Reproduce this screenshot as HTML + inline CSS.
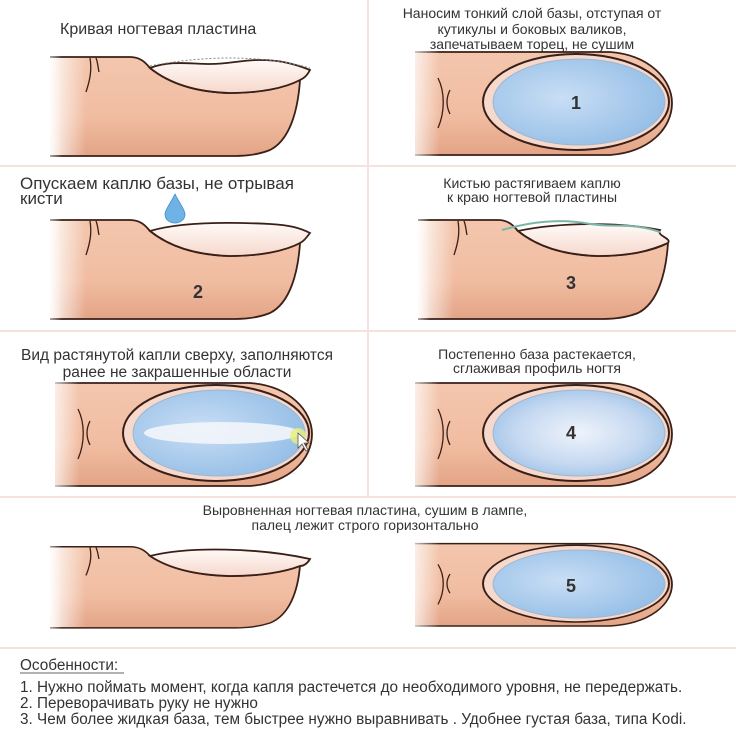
<!DOCTYPE html>
<html><head><meta charset="utf-8"><style>
body{margin:0;background:#fff;}
svg{display:block}
text{font-family:"Liberation Sans",sans-serif;fill:#333;}
</style></head><body>
<svg width="736" height="736" viewBox="0 0 736 736" xmlns="http://www.w3.org/2000/svg">
<defs>
<linearGradient id="skin" x1="0" y1="0" x2="0" y2="1">
<stop offset="0" stop-color="#f3c6ad"/><stop offset="0.6" stop-color="#f1bda2"/><stop offset="1" stop-color="#e3a486"/></linearGradient>
<linearGradient id="fade" x1="0" y1="0" x2="1" y2="0">
<stop offset="0" stop-color="#fff" stop-opacity="1"/><stop offset="1" stop-color="#fff" stop-opacity="0"/></linearGradient>
<linearGradient id="nail" x1="0" y1="0" x2="0" y2="1">
<stop offset="0" stop-color="#fffaf8"/><stop offset="1" stop-color="#f6d8cc"/></linearGradient>
<radialGradient id="blue" cx="0.4" cy="0.45" r="0.65">
<stop offset="0" stop-color="#c9def5"/><stop offset="1" stop-color="#93bde6"/></radialGradient>
<radialGradient id="blue2" cx="0.5" cy="0.5" r="0.6">
<stop offset="0" stop-color="#eef3fb"/><stop offset="0.6" stop-color="#c6d9f1"/><stop offset="1" stop-color="#98bfe6"/></radialGradient>
<g id="side">
<path d="M50,57 L130,57 C140,57 145,62 150,68 C165,80 190,92 230,93 C260,93 285,88 300,80 C298,110 290,140 270,150 C255,156 240,156 230,156 L50,156 Z" fill="url(#skin)"/>
<rect x="46" y="55" width="40" height="103" fill="url(#fade)"/>
<path d="M50,57 L130,57 C140,57 145,62 150,68 C165,80 190,92 230,93 C260,93 285,88 300,80 C298,110 290,140 270,150 C255,156 240,156 230,156 L50,156" fill="none" stroke="#3a1f17" stroke-width="1.8"/>
<rect x="40" y="54" width="22" height="105" fill="url(#fade)"/>
<path d="M90,58 C92,70 90,80 86,92 M96,58 C98,63 98,68 99,72" fill="none" stroke="#3a1f17" stroke-width="1.3"/>
</g>
<g id="top">
<path d="M415,52 L610,52 C650,55 672,80 672,103 C672,128 650,152 610,155 L415,155 Z" fill="url(#skin)"/>
<path d="M415,52 L610,52 C650,55 672,80 672,103 C672,128 650,152 610,155 L415,155" fill="none" stroke="#3a1f17" stroke-width="1.8"/>
<rect x="405" y="50" width="35" height="107" fill="url(#fade)"/>
<path d="M438,78 C445,92 445,112 438,128 M450,90 C446,98 446,106 450,114" fill="none" stroke="#3a1f17" stroke-width="1.3"/>
<ellipse cx="576" cy="102" rx="93" ry="48" fill="#f6d9cc" stroke="#3a1f17" stroke-width="2"/>
</g>
</defs>

<g stroke="#f3e3dc" stroke-width="2">
<line x1="0" y1="166" x2="736" y2="166"/><line x1="0" y1="331" x2="736" y2="331"/><line x1="0" y1="497" x2="736" y2="497"/><line x1="0" y1="648" x2="736" y2="648"/>
<line x1="368" y1="0" x2="368" y2="497"/>
</g>

<!-- Row 1 left -->
<text x="60" y="34" font-size="16">Кривая ногтевая пластина</text>
<use href="#side"/>
<path d="M150,68 C170,60 190,64 210,64 C230,64 240,60 260,60 C280,60 295,64 310,70 C308,74 305,78 300,80 C285,88 260,93 230,93 C190,92 165,80 150,68 Z" fill="url(#nail)" stroke="#3a1f17" stroke-width="1.8"/>
<path d="M150,66 C200,56 260,54 310,68" fill="none" stroke="#888" stroke-width="1" stroke-dasharray="2,2"/>

<!-- Row 1 right -->
<g font-size="14" text-anchor="middle"><text x="532" y="18">Наносим тонкий слой базы, отступая от</text><text x="532" y="34">кутикулы и боковых валиков,</text><text x="532" y="49">запечатываем торец, не сушим</text></g>
<use href="#top"/>
<ellipse cx="579" cy="102" rx="86" ry="43" fill="url(#blue)" stroke="#9fb6cc" stroke-width="1"/>
<text x="576" y="109" font-size="18" font-weight="bold" text-anchor="middle" fill="#222">1</text>

<!-- Row 2 left -->
<g font-size="17"><text x="20" y="189">Опускаем каплю базы, не отрывая</text><text x="20" y="204">кисти</text></g>
<use href="#side" transform="translate(0,163)"/>
<path d="M150,231 C180,222 230,222 270,224 C290,225 300,228 310,233 C306,238 304,241 300,243 C285,251 260,256 230,256 C190,255 165,243 150,231 Z" fill="url(#nail)" stroke="#3a1f17" stroke-width="1.8"/>
<path d="M175,194 C170,204 165,210 165,214 C165,220 170,223 175,223 C180,223 185,220 185,214 C185,210 180,204 175,194 Z" fill="#6fb3e6" stroke="#3d8ccc" stroke-width="0.8"/>
<text x="198" y="298" font-size="18" font-weight="bold" text-anchor="middle" fill="#222">2</text>

<!-- Row 2 right -->
<g font-size="14" text-anchor="middle"><text x="532" y="188">Кистью растягиваем каплю</text><text x="532" y="202">к краю ногтевой пластины</text></g>
<use href="#side" transform="translate(368,163)"/>
<path d="M518,231 C560,222 620,222 660,230 C656,236 672,238 668,243 C650,251 630,256 598,256 C558,255 533,243 518,231 Z" fill="url(#nail)" stroke="#3a1f17" stroke-width="1.8"/>
<path d="M502,230 C530,222 560,218 590,224 C615,228 630,222 660,232" fill="none" stroke="#7bb5a8" stroke-width="2"/>
<text x="571" y="289" font-size="18" font-weight="bold" text-anchor="middle" fill="#222">3</text>

<!-- Row 3 left -->
<g font-size="15.5" text-anchor="middle"><text x="177" y="360">Вид растянутой капли сверху, заполняются</text><text x="177" y="377">ранее не закрашенные области</text></g>
<use href="#top" transform="translate(-360,331)"/>
<ellipse cx="219" cy="433" rx="86" ry="43" fill="url(#blue)" stroke="#9fb6cc" stroke-width="1"/>
<ellipse cx="222" cy="433" rx="78" ry="11" fill="#f3f5fb" opacity="0.9"/>
<circle cx="298" cy="436" r="8" fill="#e8f07a" opacity="0.8"/>
<path d="M298,433 L298,448 L302,444 L306,451 L308,450 L304,443 L309,443 Z" fill="#fff" stroke="#555" stroke-width="0.8"/>

<!-- Row 3 right -->
<g font-size="14" text-anchor="middle"><text x="537" y="359">Постепенно база растекается,</text><text x="537" y="373">сглаживая профиль ногтя</text></g>
<use href="#top" transform="translate(0,331)"/>
<ellipse cx="579" cy="433" rx="86" ry="43" fill="url(#blue2)" stroke="#9fb6cc" stroke-width="1"/>
<text x="571" y="439" font-size="18" font-weight="bold" text-anchor="middle" fill="#222">4</text>

<!-- Row 4 -->
<g font-size="14" text-anchor="middle"><text x="365" y="515">Выровненная ногтевая пластина, сушим в лампе,</text><text x="365" y="530">палец лежит строго горизонтально</text></g>
<g transform="translate(0,500) scale(1,0.82)"><use href="#side"/></g>
<path d="M150,556 C190,546 260,548 310,559 C307,564 304,566 300,566 C285,572 260,576 230,576 C190,575 165,566 150,556 Z" fill="url(#nail)" stroke="#3a1f17" stroke-width="1.8"/>
<g transform="translate(0,502) scale(1,0.8)"><use href="#top"/></g>
<ellipse cx="579" cy="584" rx="86" ry="34" fill="url(#blue)" stroke="#9fb6cc" stroke-width="1"/>
<text x="571" y="592" font-size="18" font-weight="bold" text-anchor="middle" fill="#222">5</text>

<!-- notes -->
<g font-size="15.3">
<text x="20" y="670">Особенности:</text>
<line x1="20" y1="673" x2="124" y2="673" stroke="#333" stroke-width="0.8"/>
<text x="20" y="692">1. Нужно поймать момент, когда капля растечется до необходимого уровня, не передержать.</text>
<text x="20" y="708">2. Переворачивать руку не нужно</text>
<text x="20" y="724">3. Чем более жидкая база, тем быстрее нужно выравнивать . Удобнее густая база, типа Kodi.</text>
</g>
</svg>
</body></html>
